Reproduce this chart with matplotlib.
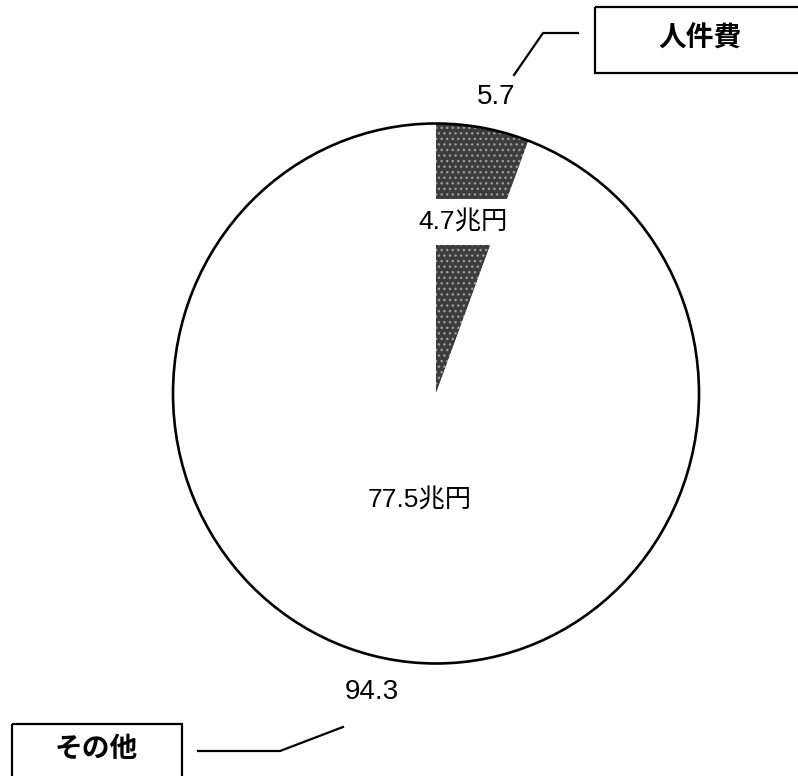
import matplotlib
matplotlib.use("Agg")
import matplotlib.pyplot as plt
from matplotlib.patches import Circle, Rectangle

# data
names = ["人件費", "その他"]
amounts = [4.7, 77.5]      # 兆円
shares = [5.7, 94.3]       # %
colors = ["#3c3c3c", "white"]

plt.rcParams["font.family"] = ["Liberation Sans", "Noto Sans CJK JP"]

W, H = 798, 776
fig = plt.figure(figsize=(W / 100, H / 100), dpi=100)
fig.patch.set_facecolor("white")

# pie axes, pie is slightly taller than wide in the scan
cx, cy = 436, 393.5
rx, ry = 263, 270
ax = fig.add_axes([0, 0, 1, 1])
wedges, _ = ax.pie(amounts, colors=colors, startangle=90, counterclock=False,
                   radius=1, center=(0, 0), frame=False,
                   wedgeprops=dict(linewidth=0))
wedges[0].set_hatch("...")
wedges[0].set_edgecolor("#9c9c9c")
ax.add_patch(Circle((0, 0), 1, fill=False, edgecolor="black", linewidth=1.9))
ax.set_aspect("auto")
ax.set_xlim(-cx / rx, (W - cx) / rx)
ax.set_ylim((cy - H) / ry, cy / ry)
ax.axis("off")

# overlay in pixel coordinates for labels / callouts
ov = fig.add_axes([0, 0, 1, 1])
ov.set_xlim(0, W)
ov.set_ylim(H, 0)
ov.axis("off")
ov.patch.set_alpha(0)

# amounts inside the pie
ov.text(463, 222, f"{amounts[0]}兆円", fontsize=19, ha="center", va="center",
        bbox=dict(boxstyle="square,pad=0.4", facecolor="white", edgecolor="none"))
ov.text(420, 500, f"{amounts[1]}兆円", fontsize=19, ha="center", va="center")

# shares outside
ov.text(496, 97, f"{shares[0]}", fontsize=20, ha="center", va="center")
ov.text(372, 692, f"{shares[1]}", fontsize=20, ha="center", va="center")

# callout boxes and leader lines
ov.add_patch(Rectangle((595, 7), 230, 66, fill=False, edgecolor="black", linewidth=1.6))
ov.text(700, 40, names[0], fontsize=20, ha="center", va="center", fontweight="bold")
ov.plot([514, 543, 578], [75, 33, 33], color="black", linewidth=1.6)

ov.add_patch(Rectangle((12, 724), 170, 70, fill=False, edgecolor="black", linewidth=1.6))
ov.text(96, 750, names[1], fontsize=20, ha="center", va="center", fontweight="bold")
ov.plot([343, 280, 198], [727, 751, 751], color="black", linewidth=1.6)

fig.savefig("out.png", dpi=100, facecolor="white")
